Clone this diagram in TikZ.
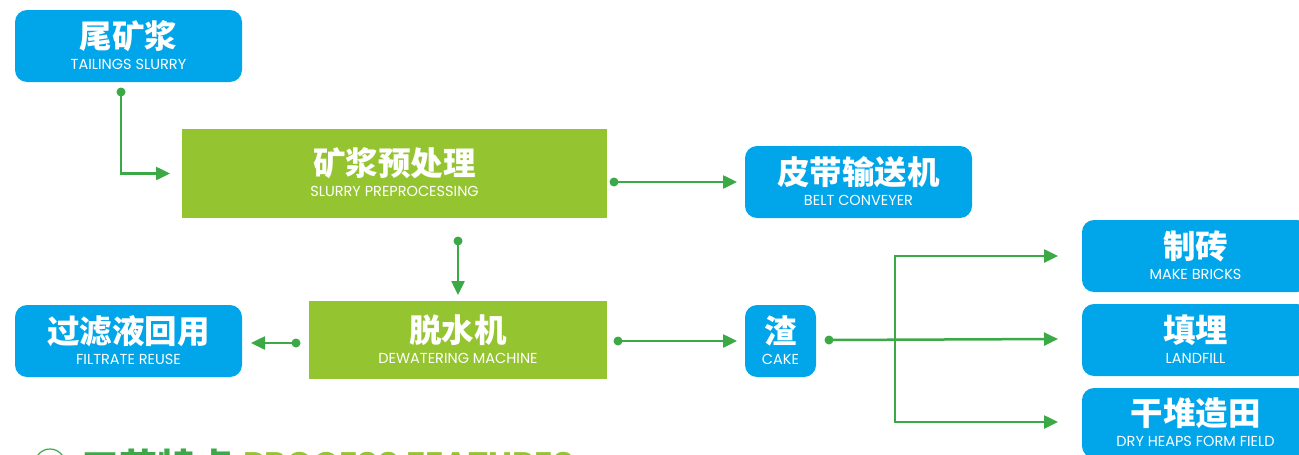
\documentclass[tikz,border=0pt]{standalone}
\usepackage{fontspec}
\newfontfamily\cjk{Noto Sans CJK SC}
\newfontfamily\en{Poppins}
\usetikzlibrary{arrows.meta,calc}
\definecolor{boxblue}{HTML}{00A6E9}
\definecolor{boxgreen}{HTML}{95C431}
\definecolor{linegreen}{HTML}{3BAA46}
\tikzset{
  bluebox/.style={fill=boxblue,rounded corners=12pt,inner sep=0pt,outer sep=0pt},
  greenbox/.style={fill=boxgreen,inner sep=0pt,outer sep=0pt},
  cn/.style={text=white,inner sep=0pt,font=\cjk\bfseries\fontsize{32.5}{32.5}\selectfont,text height=28.5pt,text depth=4pt},
  en/.style={text=white,inner sep=0pt,font=\en\fontsize{14.5}{14.5}\selectfont,text height=10.2pt,text depth=0pt},
  conn/.style={draw=linegreen,line width=2.5pt,-{Triangle[length=14pt,width=13pt]}},
  dot/.style={fill=linegreen,circle,inner sep=0pt,minimum size=9pt}
}
\newcommand\mkbox[8]{%
  \node[#6,minimum width={(#4-#2)*1pt},minimum height={(#5-#3)*1pt}] (#1) at ({(#2+#4)/2},{(#3+#5)/2}) {};
  \node[cn] (#1-cn) at ([yshift=10pt]#1.center) {#7};
  \node[en] (#1-en) at ([yshift=-18pt]#1.center) {#8};
}
\begin{document}
\begin{tikzpicture}[x=1pt,y=-1pt]
\useasboundingbox (0,0) rectangle (1299,455);
\clip (0,0) rectangle (1299,455);
\mkbox{tail}{15}{10}{242}{82}{bluebox}{尾矿浆}{TAILINGS SLURRY}
\mkbox{pre}{182}{129}{607}{218}{greenbox}{矿浆预处理}{SLURRY PREPROCESSING}
\mkbox{belt}{745}{146}{972}{218}{bluebox}{皮带输送机}{BELT CONVEYER}
\mkbox{dew}{309}{301}{607}{379}{greenbox}{脱水机}{DEWATERING MACHINE}
\mkbox{filt}{15}{305}{242}{377}{bluebox}{过滤液回用}{FILTRATE REUSE}
\mkbox{cake}{745}{305}{816}{377}{bluebox}{渣}{CAKE}
\mkbox{bricks}{1082}{220}{1309}{292}{bluebox}{制砖}{MAKE BRICKS}
\mkbox{fill}{1082}{304}{1309}{376}{bluebox}{填埋}{LANDFILL}
\mkbox{heaps}{1082}{388}{1309}{458}{bluebox}{干堆造田}{DRY HEAPS FORM FIELD}
% connectors
\coordinate (d1) at (121,92);
\node[dot] (n1) at (d1) {};
\draw[conn] (d1) |- ([xshift=-12pt]pre.west);
\coordinate (d2) at ($(pre.east |- belt.west)+(7,0)$);
\node[dot] (n2) at (d2) {};
\draw[conn] (d2) -- ([xshift=-8pt]belt.west);
\coordinate (d3) at ($(dew.north |- pre.south)+(0,23)$);
\node[dot] (n3) at (d3) {};
\draw[conn] (d3) -- ([yshift=6pt]dew.north);
\coordinate (d4) at ($(dew.west |- filt.east)+(-13,2)$);
\node[dot] (n4) at (d4) {};
\draw[conn] (d4) -- ($(filt.east)+(9,2)$);
\coordinate (d5) at ($(dew.east |- cake.west)+(11,0)$);
\node[dot] (n5) at (d5) {};
\draw[conn] (d5) -- ([xshift=-8pt]cake.west);
\coordinate (d6) at ($(cake.east)+(13,-1)$);
\node[dot] (n6) at (d6) {};
\draw[conn] (d6) -- ($(fill.west)+(-24,-1)$);
\coordinate (j) at (895,339);
\draw[conn] (j) |- ([xshift=-24pt]bricks.west);
\draw[conn] (j) |- ($(heaps.west)+(-24,-1)$);
% bottom heading (cut off at the lower edge, as in the reference)
\node[circle,draw=linegreen,line width=1.2pt,minimum size=30pt,inner sep=0pt,text=linegreen,font=\en\bfseries\fontsize{20}{20}\selectfont] (num) at (50,464) {2};
\node[anchor=base west,inner sep=0pt,text=linegreen,font=\cjk\bfseries\fontsize{38}{38}\selectfont] (h1) at (81,481) {工艺特点};
\node[anchor=base west,inner sep=0pt,text=boxgreen,font=\en\bfseries\fontsize{34}{34}\selectfont] (h2) at (243,476) {PROCESS FEATURES};
\end{tikzpicture}
\end{document}
